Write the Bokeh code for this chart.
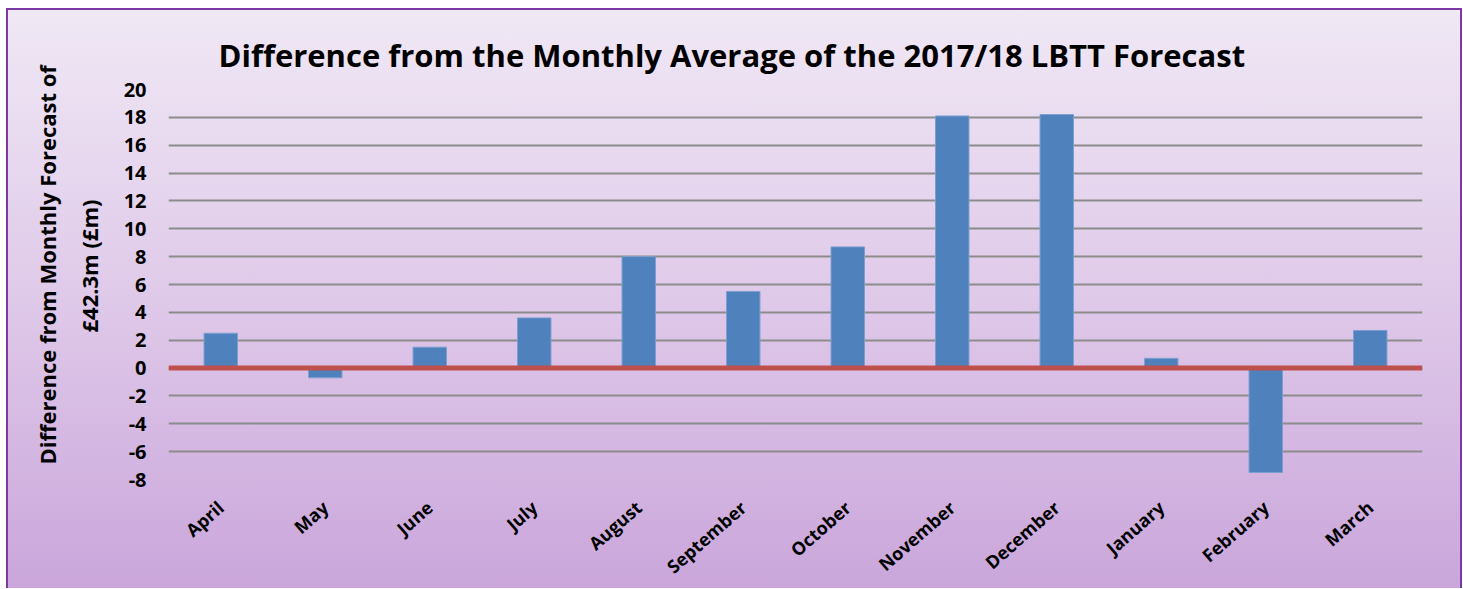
import math
from bokeh.plotting import figure
from bokeh.models import Span, FixedTicker, Title
from bokeh.embed import file_html
from bokeh.resources import INLINE

months = ["April", "May", "June", "July", "August", "September", "October",
          "November", "December", "January", "February", "March"]
values = [2.5, -0.7, 1.5, 3.6, 8.0, 5.5, 8.7, 18.1, 18.2, 0.7, -7.5, 2.7]
y_ticks = [-8, -6, -4, -2, 0, 2, 4, 6, 8, 10, 12, 14, 16, 18, 20]
y_label_1 = "Difference from Monthly Forecast of"
y_label_2 = "£42.3m (£m)"
title_text = "Difference from the Monthly Average of the 2017/18 LBTT Forecast"

FONT = "Open Sans"

p = figure(x_range=months, y_range=(-8, 20), width=1456, height=580,
           output_backend="svg", toolbar_location=None,
           min_border_left=160, min_border_right=42, min_border_top=79,
           min_border_bottom=108)

p.background_fill_alpha = 0
p.border_fill_alpha = 0
p.outline_line_color = None
p.styles = {"background": "linear-gradient(to bottom, #f0e8f5 0%, #dfc9e9 50%, #caa6db 100%)",
            "border-top": "2px solid #7b3aa3",
            "border-left": "2px solid #7b3aa3",
            "border-right": "2px solid #7b3aa3",
            "margin-top": "8px",
            "margin-left": "6px"}

p.title.text = title_text
p.title.text_font = FONT
p.title.text_font_size = "31px"
p.title.text_font_style = "bold"
p.title.align = "left"
p.title.offset = 50
p.title.standoff = 28
p.title.text_color = "#000000"

p.vbar(x=months, top=values, width=0.32, fill_color="#4F81BD",
       line_color="#7c9fd0", line_width=1)

zero = Span(location=0, dimension="width", line_color="#C0504D", line_width=5)
p.add_layout(zero)

p.xgrid.grid_line_color = None
p.ygrid.grid_line_color = "#8c8c8c"
p.ygrid.grid_line_width = 2
p.yaxis.ticker = FixedTicker(ticks=y_ticks)
p.yaxis.major_label_overrides = {t: str(t) for t in y_ticks}

for ax in (p.xaxis, p.yaxis):
    ax.axis_line_color = None
    ax.major_tick_line_color = None
    ax.minor_tick_line_color = None
    ax.major_label_text_font = FONT
    ax.major_label_text_font_style = "bold"
    ax.major_label_text_color = "#000000"

p.yaxis.major_label_text_font_size = "20px"
p.yaxis.major_label_standoff = 16
p.xaxis.major_label_text_font_size = "18px"
p.xaxis.major_label_orientation = 0.72
p.xaxis.major_label_standoff = 19

for txt, off, so in ((y_label_2, 147, 33), (y_label_1, 15, -12)):
    t = Title(text=txt, align="left", offset=off, standoff=so,
              text_font=FONT, text_font_size="22px", text_font_style="bold",
              text_color="#000000")
    p.add_layout(t, "left")

open("out.html", "w").write(file_html(p, INLINE))
